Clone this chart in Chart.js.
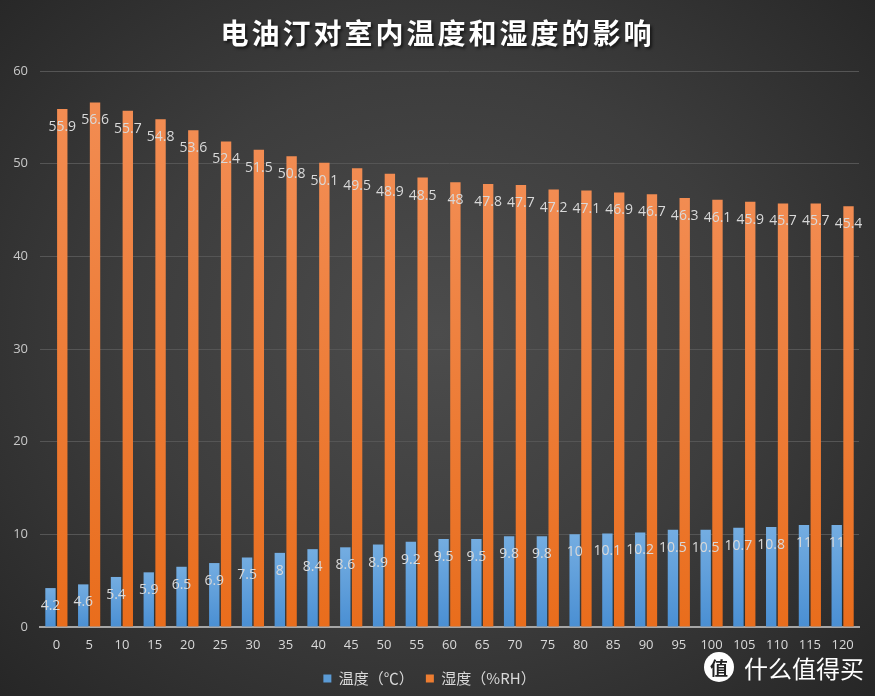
<!DOCTYPE html>
<html>
<head>
<meta charset="utf-8">
<script src="https://cdn.jsdelivr.net/npm/chart.js@4/dist/chart.umd.min.js"></script>
<style>
  html, body { margin: 0; padding: 0; }
  body { width: 875px; height: 696px; overflow: hidden; font-family: "Noto Sans CJK SC", "Noto Sans", sans-serif; }
  #wrap {
    position: relative; width: 875px; height: 696px;
    background: radial-gradient(ellipse 70% 75% at 50% 48%, #4c4c4c 0%, #3d3d3d 50%, #262626 100%);
  }
  #title {
    position: absolute; left: 0; top: 10px; width: 875px; text-align: center;
    color: #fff; font-size: 28px; font-weight: bold; letter-spacing: 3px;
    text-shadow: 2px 2px 3px rgba(0,0,0,0.6); margin: 0; line-height: 44px;
  }
  #mark { position: absolute; left: 704px; top: 652px; color: #fff; font-size: 24px; line-height: 32px; white-space: nowrap; }
  #mark .ico {
    display: inline-block; width: 30px; height: 30px; border-radius: 50%; background: #fff; color: #222;
    font-size: 18px; line-height: 30px; text-align: center; font-weight: bold; vertical-align: top; margin-right: 10px;
  }
  canvas { position: absolute; left: 0; top: 0; }
</style>
</head>
<body>
<div id="wrap">
  <canvas id="chart" width="875" height="696"></canvas>
  <h1 id="title">电油汀对室内温度和湿度的影响</h1>
  <div id="mark"><span class="ico">值</span>什么值得买</div>
</div>
<script>
const categories = ['0','5','10','15','20','25','30','35','40','45','50','55','60','65','70','75','80','85','90','95','100','105','110','115','120'];
const temperature = [4.2,4.6,5.4,5.9,6.5,6.9,7.5,8,8.4,8.6,8.9,9.2,9.5,9.5,9.8,9.8,10,10.1,10.2,10.5,10.5,10.7,10.8,11,11];
const humidity = [55.9,56.6,55.7,54.8,53.6,52.4,51.5,50.8,50.1,49.5,48.9,48.5,48,47.8,47.7,47.2,47.1,46.9,46.7,46.3,46.1,45.9,45.7,45.7,45.4];
const seriesNames = ['温度（℃）', '湿度（%RH）'];

/* ---------- Helpers ---------- */
function barGradient(top, bottom, flat) {
    return ctx => {
        const chart = ctx.chart;
        if (!chart.chartArea || ctx.parsed === undefined) return flat;
        const y = chart.scales.y;
        const y0 = y.getPixelForValue(ctx.parsed.y);
        const y1 = y.getPixelForValue(0);
        const g = chart.ctx.createLinearGradient(0, y0, 0, y1);
        g.addColorStop(0, top);
        g.addColorStop(1, bottom);
        return g;
    };
}

const valueLabels = {
    id: 'valueLabels',
    afterDatasetsDraw(chart) {
        const c = chart.ctx;
        c.save();
        c.font = '14px "Open Sans", "Noto Sans", sans-serif';
        c.fillStyle = '#d9d9d9';
        c.textAlign = 'center';
        c.textBaseline = 'middle';
        chart.data.datasets.forEach((ds, i) => {
            chart.getDatasetMeta(i).data.forEach((bar, j) => {
                c.fillText(String(ds.data[j]), bar.x, bar.y + 18);
            });
        });
        c.restore();
    }
};

new Chart(document.getElementById('chart'), {
    type: 'bar',
    data: {
        labels: categories,
        datasets: [
            { label: seriesNames[0], data: temperature,
              backgroundColor: barGradient('#74ade1', '#4a8fd3', '#5b9bd5') },
            { label: seriesNames[1], data: humidity,
              backgroundColor: barGradient('#f28c52', '#e96d1c', '#ed7d31') }
        ]
    },
    options: {
        responsive: false,
        animation: false,
        categoryPercentage: 0.72,
        barPercentage: 0.88,
        layout: { padding: { top: 71, right: 16, left: 0, bottom: 0 } },
        plugins: {
            tooltip: { enabled: false },
            legend: {
                position: 'bottom',
                labels: {
                    color: '#d9d9d9', boxWidth: 8, boxHeight: 8, padding: 12,
                    font: { size: 15, family: '"Noto Sans CJK SC", sans-serif' },
                    generateLabels(chart) {
                        const cols = ['#5b9bd5', '#ed7d31'];
                        return chart.data.datasets.map((ds, i) => ({
                            text: ds.label, fillStyle: cols[i], strokeStyle: cols[i],
                            lineWidth: 0, datasetIndex: i, fontColor: '#d9d9d9'
                        }));
                    }
                }
            }
        },
        scales: {
            x: {
                grid: { display: false, drawTicks: false },
                border: { color: '#a6a6a6', width: 2 },
                ticks: { color: '#d9d9d9', padding: 10, font: { size: 13, family: '"Open Sans", sans-serif' }, maxRotation: 0, autoSkip: false },
                afterFit(s) { s.height = 32; }
            },
            y: {
                min: 0, max: 60,
                grid: { color: '#555555', lineWidth: 1, drawTicks: false },
                border: { display: false },
                ticks: { stepSize: 10, color: '#c8c8c8', padding: 12, font: { size: 13, family: '"Open Sans", sans-serif' } },
                afterFit(s) { s.width = 40; }
            }
        }
    },
    plugins: [valueLabels]
});
</script>
</body>
</html>
